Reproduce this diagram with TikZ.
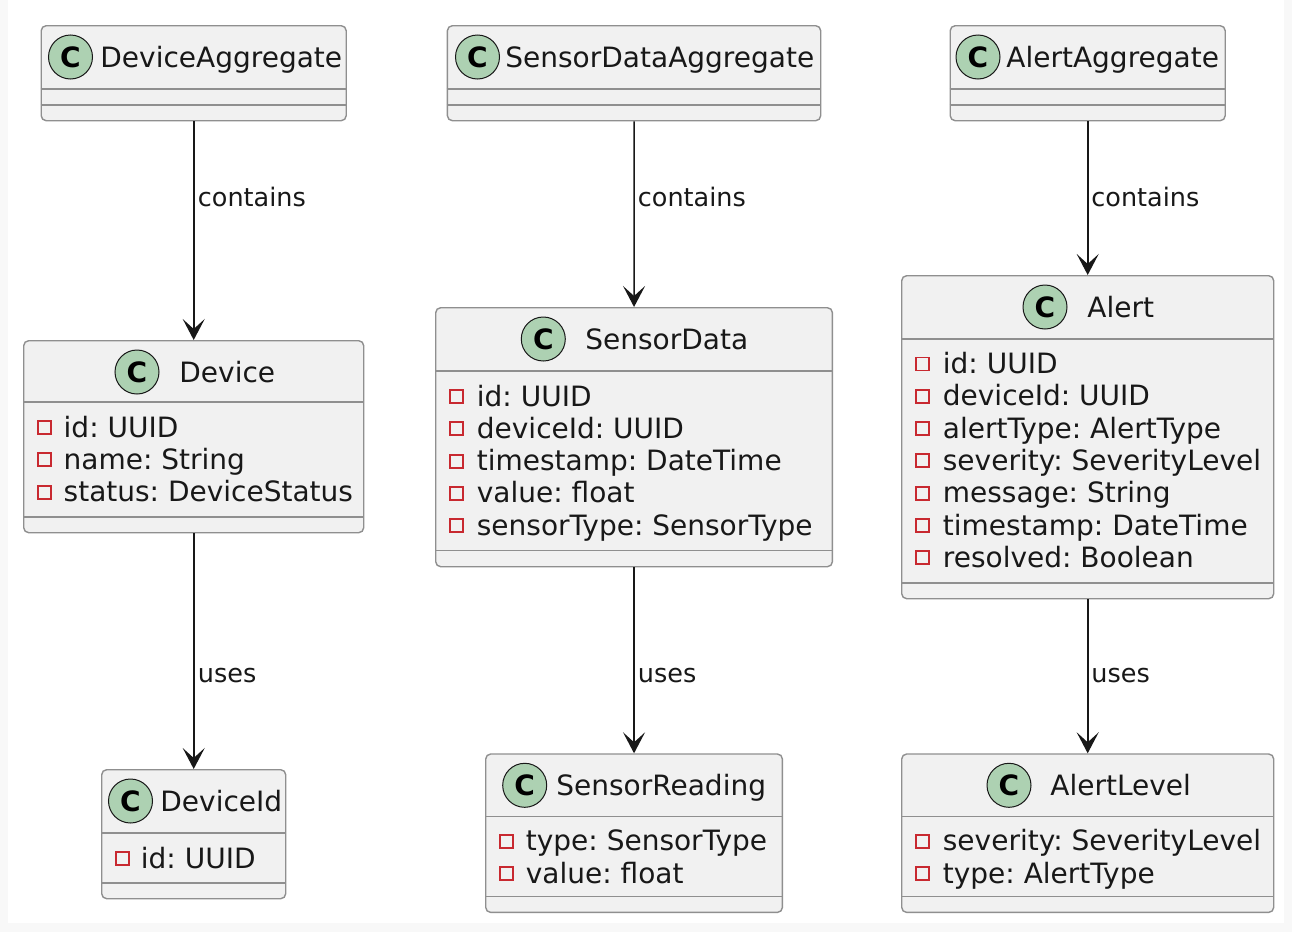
\documentclass[tikz,border=0pt]{standalone}
\usepackage{fontspec}
\setmainfont{DejaVu Sans}
\frenchspacing
\usetikzlibrary{arrows.meta}
\definecolor{classfill}{HTML}{F1F1F1}
\definecolor{classline}{HTML}{8F8F8F}
\definecolor{iconfill}{HTML}{ADD1B2}
\definecolor{privred}{HTML}{C82930}
\definecolor{edgecol}{HTML}{181818}
\definecolor{pagegrey}{HTML}{F8F8F8}
\tikzset{
  classbox/.style={draw=classline,fill=classfill,line width=0.7pt,rounded corners=2.5pt,inner sep=0pt,anchor=north west},
  sepline/.style={draw=classline,line width=0.7pt},
  classicon/.style={circle,draw=edgecol,fill=iconfill,line width=0.5pt,minimum size=22pt,inner sep=0pt,font=\bfseries\fontsize{14}{14}\selectfont},
  classname/.style={anchor=base west,inner sep=0pt,text=edgecol,font=\fontsize{14}{16}\selectfont},
  member/.style={anchor=base west,inner sep=0pt,text=edgecol,font=\fontsize{14}{16}\selectfont},
  privmark/.style={draw=privred,line width=0.95pt,minimum size=6.5pt,inner sep=0pt},
  assoc/.style={draw=edgecol,line width=0.8pt,-{Stealth[length=10.5pt,width=11pt,inset=5pt]}},
  lbl/.style={anchor=base west,inner sep=0pt,text=edgecol,font=\fontsize{12.75}{14}\selectfont}
}
\begin{document}
\begin{tikzpicture}[x=0.5pt,y=-0.5pt]
            \useasboundingbox (0,0) rectangle (1292,932);
            \fill[pagegrey] (0,0) rectangle (1292,932);
            \fill[white] (8,0) rectangle (1284,923);

            \node[classbox,minimum width=152.5pt,minimum height=47.5pt] (dagg) at (40.5,25) {};
            \draw[sepline] (40.5,89) -- (345.5,89) (40.5,105) -- (345.5,105);
            \node[classicon] (dagg-c) at (70.5,57) {C};
            \node[classname] (dagg-t) at (100,67) {DeviceAggregate};

            \node[classbox,minimum width=186.65pt,minimum height=47.5pt] (sdagg) at (446.7,25) {};
            \draw[sepline] (446.7,89) -- (820,89) (446.7,105) -- (820,105);
            \node[classicon] (sdagg-c) at (477.5,57) {C};
            \node[classname] (sdagg-t) at (505,67) {SensorDataAggregate};

            \node[classbox,minimum width=137.5pt,minimum height=47.5pt] (aagg) at (949.5,25) {};
            \draw[sepline] (949.5,89) -- (1224.5,89) (949.5,105) -- (1224.5,105);
            \node[classicon] (aagg-c) at (978,57) {C};
            \node[classname] (aagg-t) at (1006,67) {AlertAggregate};

            \node[classbox,minimum width=170pt,minimum height=96pt] (dev) at (23,340) {};
            \draw[sepline] (23,402) -- (363,402) (23,517) -- (363,517);
            \node[classicon] (dev-c) at (137,372) {C};
            \node[classname] (dev-t) at (179,382) {Device};
            \foreach \m [count=\i from 0] in {id: UUID, name: String, status: DeviceStatus} {
              \node[privmark] (dev-p\i) at (44.8,{402+25.5+\i*32.3}) {};
              \node[member] (dev-m\i) at (63.3,{402+35+\i*32.3}) {\m};
            }

            \node[classbox,minimum width=92pt,minimum height=64.5pt] (did) at (101,769) {};
            \draw[sepline] (101,833) -- (285,833) (101,883) -- (285,883);
            \node[classicon] (did-c) at (130.5,801) {C};
            \node[classname] (did-t) at (160,811) {DeviceId};
            \node[privmark] (did-p0) at (122.5,858.5) {};
            \node[member] (did-m0) at (140.5,868) {id: UUID};

            \node[classbox,minimum width=198.35pt,minimum height=129.5pt] (sd) at (435,307) {};
            \draw[sepline] (435,371) -- (831.7,371) (435,550.5) -- (831.7,550.5);
            \node[classicon] (sd-c) at (543.3,339) {C};
            \node[classname] (sd-t) at (585,349) {SensorData};
            \foreach \m [count=\i from 0] in {id: UUID, deviceId: UUID, timestamp: DateTime, value: float, sensorType: SensorType} {
              \node[privmark] (sd-p\i) at (456.5,{371+25.5+\i*32.3}) {};
              \node[member] (sd-m\i) at (476.5,{371+35+\i*32.3}) {\m};
            }

            \node[classbox,minimum width=148.35pt,minimum height=79.2pt] (sr) at (485,753.3) {};
            \draw[sepline] (485,816.7) -- (781.7,816.7) (485,896.7) -- (781.7,896.7);
            \node[classicon] (sr-c) at (524.7,785.3) {C};
            \node[classname] (sr-t) at (556,795.3) {SensorReading};
            \foreach \m [count=\i from 0] in {type: SensorType, value: float} {
              \node[privmark] (sr-p\i) at (506.5,{816.7+24.5+\i*32.3}) {};
              \node[member] (sr-m\i) at (525.5,{816.7+34+\i*32.3}) {\m};
            }

            \node[classbox,minimum width=186pt,minimum height=161.5pt] (al) at (901,275) {};
            \draw[sepline] (901,339) -- (1273,339) (901,583) -- (1273,583);
            \node[classicon] (al-c) at (1045,307) {C};
            \node[classname] (al-t) at (1087,317) {Alert};
            \foreach \m [count=\i from 0] in {id: UUID, deviceId: UUID, alertType: AlertType, severity: SeverityLevel, message: String, timestamp: DateTime, resolved: Boolean} {
              \node[privmark] (al-p\i) at (922.5,{339+25+\i*32.3}) {};
              \node[member] (al-m\i) at (942.5,{339+34.5+\i*32.3}) {\m};
            }

            \node[classbox,minimum width=186pt,minimum height=79.2pt] (alv) at (901,753.3) {};
            \draw[sepline] (901,816.7) -- (1273,816.7) (901,896.7) -- (1273,896.7);
            \node[classicon] (alv-c) at (1009,785.3) {C};
            \node[classname] (alv-t) at (1050,795.3) {AlertLevel};
            \foreach \m [count=\i from 0] in {severity: SeverityLevel, type: AlertType} {
              \node[privmark] (alv-p\i) at (922.5,{816.7+24.5+\i*32.3}) {};
              \node[member] (alv-m\i) at (942.5,{816.7+34+\i*32.3}) {\m};
            }

            \draw[assoc] (dagg.south) -- (dev.north);
            \draw[assoc] (dev.south) -- (did.north);
            \draw[assoc] (sdagg.south) -- (sd.north);
            \draw[assoc] (sd.south) -- (sr.north);
            \draw[assoc] (aagg.south) -- (al.north);
            \draw[assoc] (al.south) -- (alv.north);
            \node[lbl] (l-dc) at (197.5,206) {contains};
            \node[lbl] (l-du) at (197.5,682) {uses};
            \node[lbl] (l-sc) at (637.5,206) {contains};
            \node[lbl] (l-su) at (637.5,682) {uses};
            \node[lbl] (l-ac) at (1091,206) {contains};
            \node[lbl] (l-au) at (1091,682) {uses};
        \end{tikzpicture}
\end{document}
